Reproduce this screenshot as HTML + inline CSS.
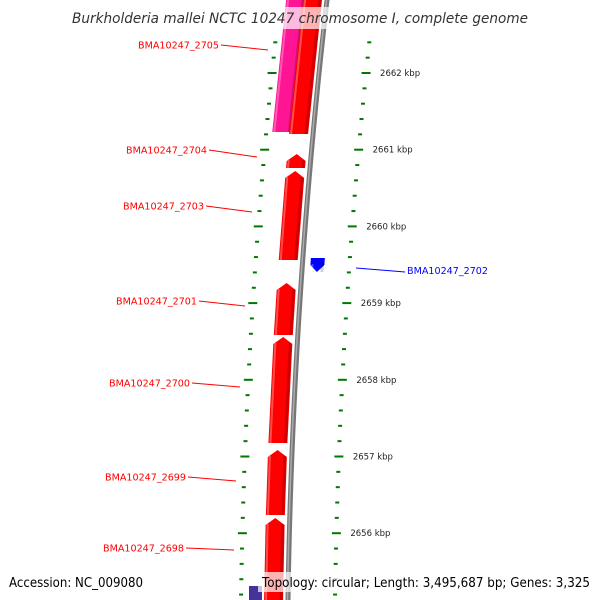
<!DOCTYPE html>
<html><head><meta charset="utf-8"><style>
html,body{margin:0;padding:0;background:#fff;}
svg{display:block;font-family:"DejaVu Sans","Liberation Sans",sans-serif;}
</style></head><body>
<svg id="map" width="600" height="600" viewBox="0 0 600 600">
<g id="ticks"></g>
<g id="genes"></g>
<g id="bb"></g>
<g id="labels"></g>
<rect x="68" y="7" width="466" height="22" fill="#fff" fill-opacity="0.7"/>
<text x="72" y="23" textLength="456" lengthAdjust="spacingAndGlyphs" font-size="14" font-style="italic" fill="#333">Burkholderia mallei NCTC 10247 chromosome I, complete genome</text>
<rect x="258" y="572" width="336" height="20" fill="#fff" fill-opacity="0.7"/>
<text x="9" y="587" textLength="134" lengthAdjust="spacingAndGlyphs" font-size="13" fill="#000">Accession: NC_009080</text>
<text x="262" y="587" textLength="328" lengthAdjust="spacingAndGlyphs" font-size="13" fill="#000">Topology: circular; Length: 3,495,687 bp; Genes: 3,325</text>
</svg>
<script>
const majorTicksKbp=[2656,2657,2658,2659,2660,2661,2662,2663];
const geneNames=["BMA10247_2705","BMA10247_2704","BMA10247_2703","BMA10247_2702","BMA10247_2701","BMA10247_2700","BMA10247_2699","BMA10247_2698"];
const geneStarts=[2661205,2660761,2659562,2659405,2658584,2657176,2656237,2655000];
const geneEnds=[2663082,2660944,2660722,2659588,2659262,2658558,2657085,2656198];
const geneStrand=[1,1,1,-1,1,1,1,1];
const pinkStart=2661231, pinkEnd=2663082;
// label layout (pixels)
const labelY=[45,150,206,270,301,383,477,548];
const labelEndX=[219,207,204,407,197,190,186,184];
const lineEndX=[268,257,252,356,245,240,236,234];
const lineEndY=[50,157,212,268,306,387,481,550];
const NS='http://www.w3.org/2000/svg';
function yOf(bp){return 73+(2662000-bp)*0.0767;}
function bbX(y){const t=(y-300)/300;return 300-19.5*t+7.5*t*t;}
function mk(tag,attrs,parent){const e=document.createElementNS(NS,tag);for(const k in attrs)e.setAttribute(k,attrs[k]);parent.appendChild(e);return e;}
const gT=document.getElementById('ticks'),gG=document.getElementById('genes'),gB=document.getElementById('bb'),gL=document.getElementById('labels');
let pts=[];for(let y=-5;y<=605;y+=5)pts.push(bbX(y)+','+y);
let bl=mk('polyline',{points:pts.join(' '),fill:'none',stroke:'#777','stroke-width':5},gB);


let pts2=[];for(let y=-5;y<=605;y+=5)pts2.push((bbX(y)-0.5)+','+y);
mk('polyline',{points:pts2.join(' '),fill:'none',stroke:'#aaa','stroke-width':1.5},gB);
for(let bp=2655000;bp<=2663600;bp+=200){
  const y=yOf(bp);if(y<30||y>600)continue;
  const major=(bp%1000===0);const len=major?9:4;const xb=bbX(y);
  [47,-47].forEach(off=>{
    const cx=xb+off;
    const t=mk('line',{x1:cx-len/2,y1:y,x2:cx+len/2,y2:y,stroke:'#007700','stroke-width':2},gT);
    
    
  });
}
majorTicksKbp.forEach(k=>{
  const y=yOf(k*1000);if(y<30||y>570)return;
  const t=mk('text',{x:bbX(y)+61,y:y+3,'font-size':8.5,fill:'#222'},gT);
  t.textContent=k+' kbp';
  
  
});
function geneShape(s,e,strand,offR,w,color,parent,name){
  const y1=yOf(s),y2=yOf(e);const top=Math.min(y1,y2),bot=Math.max(y1,y2);
  const xr=y=>bbX(y)+offR,xl=y=>bbX(y)+offR-w;
  const ah=7;let d;
  if(strand>0){
    const ty=top+ah, tipx=(xl(top)+xr(top))/2;
    d=`M${xl(bot)},${bot} L${xl(ty)},${ty} L${tipx},${top} L${xr(ty)},${ty} L${xr(bot)},${bot} Z`;
  }else if(strand<0){
    const by=bot-ah, tipx=(xl(bot)+xr(bot))/2;
    d=`M${xl(top)},${top} L${xr(top)},${top} L${xr(by)},${by} L${tipx},${bot} L${xl(by)},${by} Z`;
  }else{
    d=`M${xl(bot)},${bot} L${xl(top)},${top} L${xr(top)},${top} L${xr(bot)},${bot} Z`;
  }
  const p=mk('path',{d:d,fill:color},parent);
  
  
  mk('line',{x1:xr(top+6)-2,y1:top+6,x2:xr(bot)-2,y2:bot,stroke:'#000','stroke-opacity':0.18,'stroke-width':3},parent);
  mk('line',{x1:xl(top+6)+2,y1:top+6,x2:xl(bot)+2,y2:bot,stroke:'#fff','stroke-opacity':0.3,'stroke-width':2},parent);
}
geneShape(pinkStart,pinkEnd,0,-22,19,'#ff1493',gG,'pink-feature');
geneNames.forEach((n,i)=>{
  const s=geneStarts[i],e=geneEnds[i],st=geneStrand[i];
  if(st>0) geneShape(s,e,1,-5,19,'#ff0000',gG,'gene-'+n);
  else geneShape(s,e,-1,22,14,'#0000ff',gG,'gene-'+n);
  const ly=labelY[i];
  if(st>0){
    const ln=mk('line',{x1:labelEndX[i]+2,y1:ly,x2:lineEndX[i],y2:lineEndY[i],stroke:'#ff0000','stroke-width':1},gL);
    
    
    const t=mk('text',{x:labelEndX[i]-81,y:ly+3.5,textLength:81,lengthAdjust:'spacingAndGlyphs','font-size':10,fill:'#ff0000'},gL);
    t.textContent=n;
    
    
  }else{
    const ln=mk('line',{x1:lineEndX[i],y1:lineEndY[i],x2:labelEndX[i]-2,y2:ly+2,stroke:'#0000ff','stroke-width':1},gL);
    
    
    const t=mk('text',{x:labelEndX[i],y:ly+4,textLength:81,lengthAdjust:'spacingAndGlyphs','font-size':10,fill:'#0000ff'},gL);
    t.textContent=n;
    
    
  }
});
const sq=mk('rect',{x:249,y:586,width:13,height:14,fill:'#443399'},gG);


</script>
</body></html>
